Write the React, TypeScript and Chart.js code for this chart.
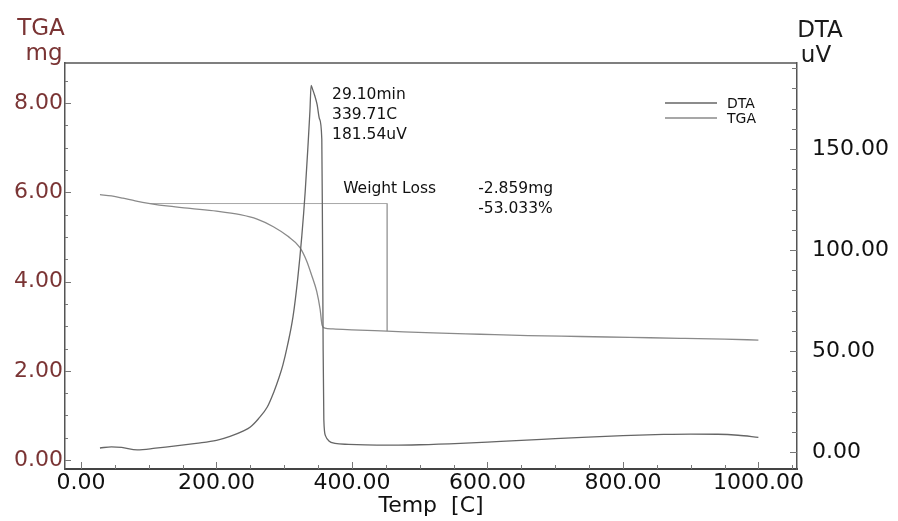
import { useEffect, useRef } from "react";
import { Chart, registerables } from "chart.js";

Chart.register(...registerables);

const FONT = "'DejaVu Sans', 'Liberation Sans', sans-serif";

// DTA curve (temperature in C, signal in uV)
const dtaTemp = [28, 45, 60, 83, 110, 140, 170, 200, 220, 240, 250, 262, 275, 285, 292, 298, 305, 313, 320, 326, 331, 335, 338, 339.71, 342, 345, 348.6, 352, 355.5, 356.5, 357.5, 358.5, 361, 366, 375, 395, 420, 460, 500, 560, 620, 680, 740, 800, 860, 900, 940, 970, 1000];
const dtaUv = [2.0, 2.6, 2.3, 1.1, 1.9, 3.0, 4.3, 5.8, 7.8, 10.5, 12.4, 16.5, 22.3, 30, 36.5, 43, 53, 67, 86, 107, 129, 151, 169, 181.54, 179.5, 176.5, 172, 165, 155, 110, 50, 16, 8, 5.5, 4.3, 3.8, 3.5, 3.4, 3.6, 4.3, 5.3, 6.3, 7.3, 8.1, 8.7, 8.9, 8.8, 8.3, 7.3];

// TGA curve (temperature in C, mass in mg)
const tgaTemp = [28, 45, 62, 80, 102, 130, 161, 200, 235, 260, 284, 305, 323, 333, 341, 348, 353, 356, 360, 372, 400, 452, 520, 589, 660, 737, 810, 885, 950, 1000];
const tgaMg = [5.95, 5.92, 5.87, 5.81, 5.75, 5.69, 5.64, 5.58, 5.5, 5.4, 5.23, 5.02, 4.77, 4.47, 4.12, 3.78, 3.38, 3.02, 2.96, 2.94, 2.92, 2.89, 2.85, 2.82, 2.79, 2.77, 2.75, 2.73, 2.71, 2.69];

// Weight-loss bracket
const bracketTemp = [102, 452, 452];
const bracketMg = [5.75, 5.75, 2.89];

// Tick labels
const xTickValues = [0, 200, 400, 600, 800, 1000];
const tgaTickValues = [0, 2, 4, 6, 8];
const dtaTickValues = [0, 50, 100, 150];

// Annotations
const peakTemp = 339.71;
const peakUv = 181.54;
const peakLines = ["29.10min", "339.71C", "181.54uV"];
const lossLabel = "Weight Loss";
const lossLines = ["-2.859mg", "-53.033%"];

const MAROON = "#7a3434";

const decorPlugin = {
  id: "decor",
  afterDraw(chart: any) {
    const { ctx, chartArea: a, scales } = chart;
    const x = scales.x;
    const yl = scales.y;
    const yr = scales.y1;
    ctx.save();

    // top border
    ctx.strokeStyle = "#555";
    ctx.lineWidth = 1.5;
    ctx.beginPath();
    ctx.moveTo(a.left, a.top);
    ctx.lineTo(a.right, a.top);
    ctx.stroke();

    // inward ticks
    ctx.strokeStyle = "#777";
    ctx.lineWidth = 1;
    const seg = (x1: number, y1: number, x2: number, y2: number) => {
      ctx.beginPath();
      ctx.moveTo(x1, y1);
      ctx.lineTo(x2, y2);
      ctx.stroke();
    };
    for (let v = 0; v <= 1050; v += 50) {
      const px = Math.round(x.getPixelForValue(v)) + 0.5;
      const len = v % 200 === 0 ? 7 : 4;
      seg(px, a.bottom, px, a.bottom - len);
    }
    for (let i = 0; i <= 17; i++) {
      const v = i * 0.5;
      const py = Math.round(yl.getPixelForValue(v)) + 0.5;
      const len = i % 4 === 0 ? 6 : 3;
      seg(a.left, py, a.left + len, py);
    }
    for (let v = 0; v <= 190; v += 10) {
      const py = Math.round(yr.getPixelForValue(v)) + 0.5;
      const len = v % 50 === 0 ? 7 : 5;
      seg(a.right, py, a.right - len, py);
    }

    // axis unit titles
    ctx.textAlign = "center";
    ctx.textBaseline = "alphabetic";
    ctx.font = `23px ${FONT}`;
    ctx.fillStyle = MAROON;
    ctx.fillText("TGA", a.left - 24, 35);
    ctx.fillText("mg", a.left - 21, 60);
    ctx.fillStyle = "#1a1a1a";
    ctx.fillText("DTA", a.right + 23, 37);
    ctx.fillText("uV", a.right + 19, 62);

    // legend
    const ds = chart.data.datasets;
    ctx.font = `14px ${FONT}`;
    ctx.textAlign = "left";
    ctx.textBaseline = "middle";
    [0, 1].forEach((idx, k) => {
      const ly = a.top + 40 + k * 15;
      ctx.strokeStyle = ds[idx].borderColor;
      ctx.lineWidth = 1.3;
      seg(a.right - 132, ly, a.right - 80, ly);
      ctx.fillStyle = "#111";
      ctx.fillText(ds[idx].label, a.right - 70, ly + 1);
    });

    // peak annotation
    const pkx = x.getPixelForValue(peakTemp);
    const pky = yr.getPixelForValue(peakUv);
    ctx.font = `15.5px ${FONT}`;
    ctx.fillStyle = "#111";
    peakLines.forEach((t, i) => {
      ctx.fillText(t, pkx + 21, pky + 10 + i * 20);
    });

    // weight loss annotation
    const bx = x.getPixelForValue(bracketTemp[1]);
    const by = yl.getPixelForValue(bracketMg[0]);
    ctx.fillText(lossLabel, bx - 44, by - 15);
    lossLines.forEach((t, i) => {
      ctx.fillText(t, bx + 91, by - 15 + i * 20);
    });

    ctx.restore();
  },
};

export default function App() {
  const ref = useRef<HTMLCanvasElement>(null);

  useEffect(() => {
    if (!ref.current) return;
    Chart.defaults.font.family = FONT;
    const chart = new Chart(ref.current, {
      type: "line",
      data: {
        datasets: [
          {
            label: "DTA",
            data: dtaTemp.map((t, i) => ({ x: t, y: dtaUv[i] })),
            yAxisID: "y1",
            borderColor: "#666666",
            borderWidth: 1.3,
            pointRadius: 0,
            cubicInterpolationMode: "monotone",
            fill: false,
          },
          {
            label: "TGA",
            data: tgaTemp.map((t, i) => ({ x: t, y: tgaMg[i] })),
            yAxisID: "y",
            borderColor: "#8a8a8a",
            borderWidth: 1.3,
            pointRadius: 0,
            cubicInterpolationMode: "monotone",
            fill: false,
          },
          {
            label: "bracket",
            data: bracketTemp.map((t, i) => ({ x: t, y: bracketMg[i] })),
            yAxisID: "y",
            borderColor: "#a8a8a8",
            borderWidth: 1,
            pointRadius: 0,
            tension: 0,
            fill: false,
          },
        ],
      },
      options: {
        responsive: false,
        animation: false,
        layout: { padding: { top: 63, left: 0, right: 0, bottom: 0 } },
        plugins: {
          legend: { display: false },
          tooltip: { enabled: false },
        },
        scales: {
          x: {
            type: "linear",
            min: -23.6,
            max: 1057,
            grid: { display: false, drawTicks: false },
            border: { display: true, color: "#444", width: 2 },
            afterBuildTicks: (s: any) => {
              s.ticks = xTickValues.map((v) => ({ value: v }));
            },
            afterFit: (s: any) => {
              s.height = 52;
            },
            ticks: {
              autoSkip: false,
              maxRotation: 0,
              padding: 1,
              color: "#111",
              font: { size: 22, family: FONT },
              callback: (v: any) => Number(v).toFixed(2),
            },
            title: {
              display: true,
              text: "Temp  [C]",
              color: "#111",
              font: { size: 22, family: FONT },
              padding: { top: 0, bottom: 2 },
            },
          },
          y: {
            type: "linear",
            position: "left",
            min: -0.2,
            max: 8.9,
            grid: { display: false, drawTicks: false },
            border: { display: true, color: "#555", width: 1.5 },
            afterBuildTicks: (s: any) => {
              s.ticks = tgaTickValues.map((v) => ({ value: v }));
            },
            afterFit: (s: any) => {
              s.width = 65;
            },
            ticks: {
              autoSkip: false,
              padding: 2,
              color: MAROON,
              font: { size: 22, family: FONT },
              callback: (v: any) => Number(v).toFixed(2),
            },
          },
          y1: {
            type: "linear",
            position: "right",
            min: -8.4,
            max: 192.6,
            grid: { display: false, drawTicks: false },
            border: { display: true, color: "#555", width: 1.5 },
            afterBuildTicks: (s: any) => {
              s.ticks = dtaTickValues.map((v) => ({ value: v }));
            },
            afterFit: (s: any) => {
              s.width = 101;
            },
            ticks: {
              autoSkip: false,
              padding: 15,
              color: "#111",
              font: { size: 22, family: FONT },
              callback: (v: any) => Number(v).toFixed(2),
            },
          },
        },
      },
      plugins: [decorPlugin],
    } as any);
    return () => chart.destroy();
  }, []);

  return (
    <div
      style={{
        position: "fixed",
        left: 0,
        top: 0,
        width: 898,
        height: 521,
        background: "#fff",
      }}
    >
      <canvas ref={ref} width={898} height={521} style={{ display: "block" }} />
    </div>
  );
}
